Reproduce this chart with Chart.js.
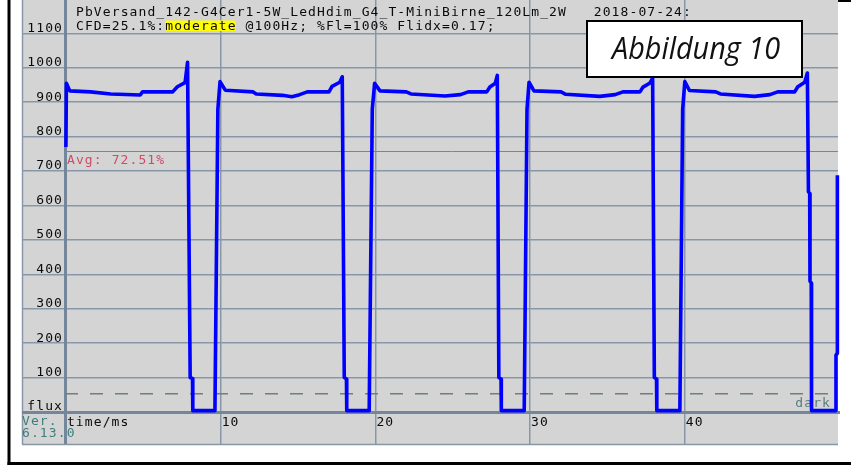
<!DOCTYPE html>
<html>
<head>
<meta charset="utf-8">
<script src="https://cdn.jsdelivr.net/npm/chart.js@4/dist/chart.umd.min.js"></script>
<style>
  html, body { margin: 0; padding: 0; background: #fff; }
  #wrap { width: 851px; height: 466px; position: relative; }
</style>
</head>
<body>
<div id="wrap"><canvas id="c" width="851" height="466"></canvas></div>
<script>
// Flicker trace of the lamp: time in ms, luminous flux in arbitrary units
const timeMs = [
  0.00, 0.03, 0.25, 1.60, 2.90, 4.80, 4.95, 6.90, 7.20, 7.70, 7.86, 8.03, 8.18, 8.20, 9.63, 9.82, 9.96,
  10.30, 12.10, 12.30, 14.00, 14.60, 15.10, 15.60, 17.00, 17.20, 17.70, 17.86, 17.99, 18.13, 18.15, 19.60, 19.80, 19.95,
  20.30, 22.00, 22.30, 24.50, 25.50, 26.00, 27.20, 27.40, 27.75, 27.88, 27.98, 28.12, 28.14, 29.62, 29.80, 29.93,
  30.25, 32.00, 32.30, 34.50, 35.50, 36.00, 37.10, 37.30, 37.75, 37.92, 38.03, 38.17, 38.19, 39.68, 39.86, 40.00,
  40.30, 42.00, 42.30, 44.50, 45.50, 46.00, 47.10, 47.30, 47.75, 47.92, 47.99, 48.07, 48.09, 48.17, 48.19, 49.75, 49.77, 49.84, 49.86
];
const flux = [
  770, 955, 933, 930, 924, 921, 930, 930, 945, 957, 1016, 100, 97, 4, 4, 880, 960,
  935, 930, 924, 920, 916, 922, 930, 930, 946, 958, 974, 100, 96, 4, 4, 880, 955,
  933, 930, 924, 918, 922, 930, 930, 944, 955, 978, 100, 96, 4, 4, 880, 958,
  933, 930, 923, 917, 922, 930, 930, 944, 956, 970, 100, 96, 4, 4, 880, 960,
  934, 930, 924, 917, 922, 930, 930, 945, 958, 985, 640, 635, 380, 375, 4, 4, 165, 170, 688
];

const yTickValues = [0, 100, 200, 300, 400, 500, 600, 700, 800, 900, 1000, 1100];
const xTickValues = [0, 10, 20, 30, 40];
const yLabelAtZero = 'flux';
const xLabelAtZero = 'time/ms';
const avgFlux = 759;
const avgLabel = 'Avg: 72.51%';
const darkLevel = 53;
const darkLabel = 'dark';
const headerLine1 = 'PbVersand_142-G4Cer1-5W_LedHdim_G4_T-MiniBirne_120Lm_2W   2018-07-24:';
const headerLine2 = ['CFD=25.1%:', 'moderate', ' @100Hz; %Fl=100% Flidx=0.17;'];
const versionLines = ['Ver.', '6.13.0'];
const figureTitle = 'Abbildung 10';

const MONO = '13px "DejaVu Sans Mono"';
const PANEL = '#d4d4d4';
const GRID = '#8797a7';
const AXIS = '#74879a';
const INK = '#0a0a0a';

const panelPlugin = {
  id: 'panel',
  beforeDraw(chart) {
    const ctx = chart.ctx;
    const a = chart.chartArea;
    ctx.letterSpacing = '1.1px';
    ctx.save();
    ctx.fillStyle = '#ffffff';
    ctx.fillRect(0, 0, chart.width, chart.height);
    // grey panel
    ctx.fillStyle = PANEL;
    ctx.fillRect(22, 0, a.right - 22, 444);
    ctx.strokeStyle = GRID;
    ctx.lineWidth = 1.5;
    ctx.beginPath();
    ctx.moveTo(22.5, 0); ctx.lineTo(22.5, 444.5);
    ctx.moveTo(22, 444.5); ctx.lineTo(a.right, 444.5);
    ctx.stroke();
    // outer black frame
    ctx.fillStyle = '#000';
    ctx.fillRect(7.5, 0, 3, 465);
    ctx.fillRect(7.5, 462, chart.width - 7.5, 3);
    ctx.fillRect(a.right, 0, chart.width - a.right, 2);
    ctx.restore();
  },
  beforeDatasetsDraw(chart) {
    const ctx = chart.ctx;
    const a = chart.chartArea;
    const y = chart.scales.y;
    ctx.save();
    // average level
    const ya = Math.round(y.getPixelForValue(avgFlux)) + 0.5;
    ctx.strokeStyle = '#dc5a70';
    ctx.lineWidth = 1;
    ctx.beginPath(); ctx.moveTo(a.left, ya); ctx.lineTo(a.right, ya); ctx.stroke();
    ctx.font = MONO;
    ctx.fillStyle = '#d04a66';
    ctx.textBaseline = 'alphabetic';
    ctx.textAlign = 'left';
    ctx.fillText(avgLabel, a.left + 2, ya + 12);
    // dark level
    const yd = y.getPixelForValue(darkLevel);
    ctx.strokeStyle = '#6d7f7f';
    ctx.lineWidth = 1.5;
    ctx.setLineDash([13, 12]);
    ctx.beginPath(); ctx.moveTo(a.left, yd); ctx.lineTo(a.right, yd); ctx.stroke();
    ctx.setLineDash([]);
    ctx.fillStyle = '#5c7c7c';
    ctx.textAlign = 'right';
    ctx.fillText(darkLabel, a.right - 7, yd + 13);
    // version
    ctx.textAlign = 'left';
    ctx.fillStyle = '#3f7d7d';
    ctx.fillText(versionLines[0], 22, 425);
    ctx.fillText(versionLines[1], 22, 437);
    ctx.restore();
  },
  afterDraw(chart) {
    const ctx = chart.ctx;
    ctx.save();
    ctx.font = MONO;
    ctx.textAlign = 'left';
    ctx.textBaseline = 'alphabetic';
    ctx.fillStyle = INK;
    ctx.fillText(headerLine1, 76, 16);
    let x = 76;
    const w0 = ctx.measureText(headerLine2[0]).width;
    const w1 = ctx.measureText(headerLine2[1]).width;
    ctx.fillText(headerLine2[0], x, 29.5);
    x += w0;
    ctx.fillStyle = '#ffff00';
    ctx.fillRect(x, 20.5, w1 - 1, 10.5);
    ctx.fillStyle = INK;
    ctx.fillText(headerLine2[1], x, 29.5);
    x += w1;
    ctx.fillText(headerLine2[2], x, 29.5);
    // figure caption box
    ctx.letterSpacing = '0px';
    ctx.fillStyle = '#ffffff';
    ctx.fillRect(587, 21, 215, 56);
    ctx.strokeStyle = '#000';
    ctx.lineWidth = 2;
    ctx.strokeRect(587, 21, 215, 56);
    ctx.font = 'italic 31px "Open Sans"';
    const tw = ctx.measureText(figureTitle).width;
    const sx = 168 / tw;
    ctx.translate(612, 59);
    ctx.scale(sx, 1);
    ctx.fillStyle = '#111';
    ctx.fillText(figureTitle, 0, 0);
    ctx.restore();
  }
};

const points = timeMs.map((t, i) => ({ x: t, y: flux[i] }));

new Chart(document.getElementById('c'), {
  type: 'line',
  data: {
    datasets: [{
      data: points,
      borderColor: '#0000ff',
      borderWidth: 3.6,
      borderJoinStyle: 'round',
      pointRadius: 0,
      tension: 0,
      fill: false,
      clip: false
    }]
  },
  options: {
    responsive: false,
    animation: false,
    devicePixelRatio: 1,
    layout: { padding: { left: 22, right: 13, top: 0, bottom: 22 } },
    plugins: { legend: { display: false }, tooltip: { enabled: false } },
    scales: {
      x: {
        type: 'linear',
        min: -0.06,
        max: 49.9,
        afterFit(s) { s.height = 32; },
        afterBuildTicks(s) { s.ticks = xTickValues.map(v => ({ value: v })); },
        grid: {
          color: (c) => c.tick && c.tick.value === 0 ? AXIS : GRID,
          lineWidth: (c) => c.tick && c.tick.value === 0 ? 3 : 1.5,
          tickLength: 32,
          drawTicks: true
        },
        border: { display: true, color: AXIS, width: 3 },
        ticks: {
          align: 'start',
          maxRotation: 0,
          autoSkip: false,
          padding: -29.5,
          labelOffset: 1,
          color: INK,
          font: { family: 'DejaVu Sans Mono', size: 13 },
          callback: (v) => v === 0 ? xLabelAtZero : String(v)
        }
      },
      y: {
        type: 'linear',
        min: 0,
        max: 1197,
        afterFit(s) { s.width = 43; },
        afterBuildTicks(s) { s.ticks = yTickValues.map(v => ({ value: v })); },
        grid: {
          color: (c) => c.tick && c.tick.value === 0 ? AXIS : GRID,
          lineWidth: (c) => c.tick && c.tick.value === 0 ? 3 : 1.5,
          tickLength: 43,
          drawTicks: true
        },
        border: { display: true, color: AXIS, width: 3 },
        ticks: {
          autoSkip: false,
          padding: -41,
          labelOffset: -5,
          color: INK,
          font: { family: 'DejaVu Sans Mono', size: 13 },
          callback: (v) => v === 0 ? yLabelAtZero : String(v)
        }
      }
    }
  },
  plugins: [panelPlugin]
});
</script>
</body>
</html>
